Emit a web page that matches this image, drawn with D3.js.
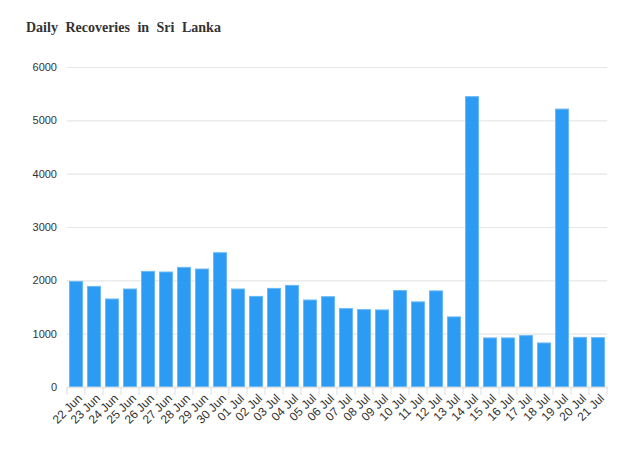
<!DOCTYPE html>
<html><head><meta charset="utf-8">
<script src="https://cdn.jsdelivr.net/npm/d3@7"></script>
<style>body{margin:0;background:#fff}svg{display:block}</style>
</head><body><svg id="c" width="627" height="463"></svg>
<script>
const title = "Daily Recoveries in Sri Lanka";
const dates = ["22 Jun","23 Jun","24 Jun","25 Jun","26 Jun","27 Jun","28 Jun","29 Jun","30 Jun","01 Jul","02 Jul","03 Jul","04 Jul","05 Jul","06 Jul","07 Jul","08 Jul","09 Jul","10 Jul","11 Jul","12 Jul","13 Jul","14 Jul","15 Jul","16 Jul","17 Jul","18 Jul","19 Jul","20 Jul","21 Jul"];
const recoveries = [1980,1886,1650,1837,2168,2156,2243,2212,2518,1837,1699,1849,1905,1631,1693,1470,1451,1445,1808,1596,1802,1314,5444,920,920,963,826,5211,931,925];
const yTicks = [0,1000,2000,3000,4000,5000,6000];

const svg = d3.select("#c");
const m = {l:67, r:20, t:67, b:76};
const W = 627, H = 463;
const x = d3.scaleBand().domain(dates).range([m.l, W - m.r]).paddingInner(0.28).paddingOuter(0.14);
const y = d3.scaleLinear().domain([0,6000]).range([H - m.b, m.t]);

svg.append("text").attr("x",26).attr("y",32)
  .attr("font-family","'Liberation Serif', 'Times New Roman', serif")
  .attr("font-weight","bold").attr("font-size",14).attr("word-spacing","4px")
  .attr("fill","#333").text(title);

const ya = svg.append("g").attr("transform",`translate(${m.l},0)`)
  .call(d3.axisLeft(y).tickValues(yTicks).tickSize(-(W - m.l - m.r)).tickPadding(10).tickFormat(d3.format("d")));
ya.select(".domain").remove();
ya.selectAll(".tick line").attr("stroke","#e6e6e6").attr("stroke-width",1.2);
ya.selectAll(".tick text").attr("font-family","'Liberation Sans', Arial, sans-serif").attr("font-size",11).attr("fill","#333");

svg.append("g").selectAll("rect").data(recoveries).join("rect")
  .attr("x",(d,i)=>x(dates[i])).attr("width",x.bandwidth())
  .attr("y",d=>y(d)).attr("height",d=>y(0)-y(d))
  .attr("fill","#2196f3").attr("fill-opacity",0.95)
  .attr("stroke","#6ab8f7").attr("stroke-width",1);

const xa = svg.append("g").attr("transform",`translate(0,${y(0)})`)
  .call(d3.axisBottom(x).tickSize(0).tickPadding(0));
xa.select(".domain").attr("stroke","#e3e3e3").attr("stroke-width",1.5);
const step = x.step();
xa.selectAll(".tick").append("line").attr("x1",-step/2).attr("x2",-step/2).attr("y1",0).attr("y2",8)
  .attr("stroke","#e3e3e3").attr("stroke-width",1.2);
xa.append("line").attr("x1",W-m.r).attr("x2",W-m.r).attr("y1",0).attr("y2",8).attr("stroke","#e3e3e3").attr("stroke-width",1.2);
xa.selectAll(".tick text")
  .attr("font-family","'Liberation Sans', Arial, sans-serif").attr("font-size",12).attr("fill","#333")
  .attr("text-anchor","end").attr("dy",0)
  .attr("transform","translate(7,12) rotate(-45)");
</script></body></html>
